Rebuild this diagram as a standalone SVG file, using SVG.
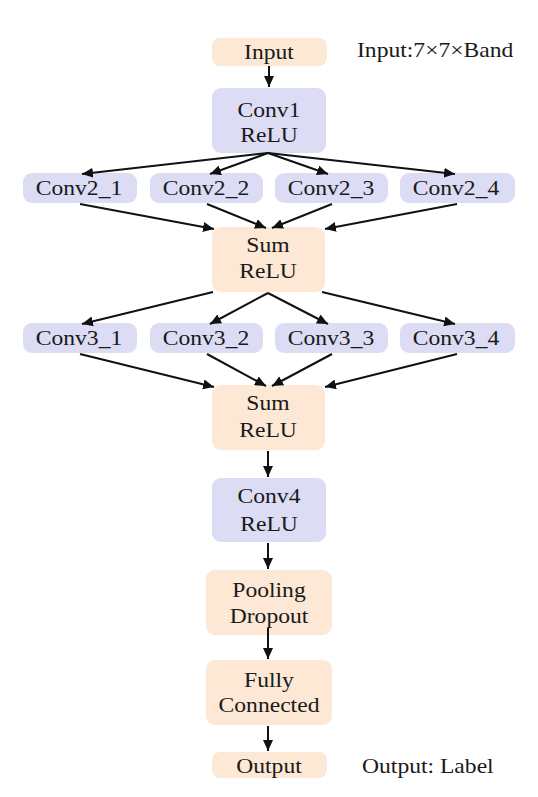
<svg xmlns="http://www.w3.org/2000/svg" width="538" height="797" viewBox="0 0 538 797">
<defs>
<marker id="ah" markerUnits="userSpaceOnUse" markerWidth="11" markerHeight="10" refX="11" refY="5" orient="auto">
<path d="M0,0 L11,5 L0,10 z" fill="#111"/>
</marker>
<style>
.o{fill:#FCE8D5}
.b{fill:#DCDCF5}
text{font-family:"Liberation Serif","Times New Roman",serif;font-size:20px;fill:#1a1a1a;text-anchor:middle}
.c line{stroke:#111;stroke-width:2;marker-end:url(#ah)}
</style>
</defs>
<rect width="538" height="797" fill="#fff"/>
<g id="input"><rect class="o" x="212" y="38" width="115" height="28" rx="8"/><text transform="translate(269,59) scale(1.18,1)">Input</text></g>
<g id="conv1"><rect class="b" x="212" y="88" width="114" height="65" rx="9"/><text transform="translate(269,117) scale(1.18,1)">Conv1</text><text transform="translate(269,142) scale(1.18,1)">ReLU</text></g>
<g id="conv2_1"><rect class="b" x="23" y="173" width="114" height="30" rx="9"/><text transform="translate(79,195) scale(1.18,1)">Conv2_1</text></g>
<g id="conv2_2"><rect class="b" x="150" y="173" width="113" height="30" rx="9"/><text transform="translate(206,195) scale(1.18,1)">Conv2_2</text></g>
<g id="conv2_3"><rect class="b" x="275" y="173" width="113" height="30" rx="9"/><text transform="translate(331,195) scale(1.18,1)">Conv2_3</text></g>
<g id="conv2_4"><rect class="b" x="400" y="173" width="115" height="30" rx="9"/><text transform="translate(456,195) scale(1.18,1)">Conv2_4</text></g>
<g id="sum1"><rect class="o" x="212" y="227" width="113" height="65" rx="9"/><text transform="translate(268,252) scale(1.18,1)">Sum</text><text transform="translate(268,278) scale(1.18,1)">ReLU</text></g>
<g id="conv3_1"><rect class="b" x="23" y="323" width="114" height="30" rx="9"/><text transform="translate(79,345) scale(1.18,1)">Conv3_1</text></g>
<g id="conv3_2"><rect class="b" x="150" y="323" width="113" height="30" rx="9"/><text transform="translate(206,345) scale(1.18,1)">Conv3_2</text></g>
<g id="conv3_3"><rect class="b" x="275" y="323" width="113" height="30" rx="9"/><text transform="translate(331,345) scale(1.18,1)">Conv3_3</text></g>
<g id="conv3_4"><rect class="b" x="400" y="323" width="115" height="30" rx="9"/><text transform="translate(456,345) scale(1.18,1)">Conv3_4</text></g>
<g id="sum2"><rect class="o" x="212" y="385" width="113" height="65" rx="9"/><text transform="translate(268,410) scale(1.18,1)">Sum</text><text transform="translate(268,437) scale(1.18,1)">ReLU</text></g>
<g id="conv4"><rect class="b" x="212" y="478" width="114" height="64" rx="9"/><text transform="translate(269,503) scale(1.18,1)">Conv4</text><text transform="translate(269,531) scale(1.18,1)">ReLU</text></g>
<g id="pooling"><rect class="o" x="206" y="570" width="126" height="65" rx="9"/><text transform="translate(269,597) scale(1.18,1)">Pooling</text><text transform="translate(269,623) scale(1.18,1)">Dropout</text></g>
<g id="fc"><rect class="o" x="206" y="660" width="126" height="65" rx="9"/><text transform="translate(269,687) scale(1.18,1)">Fully</text><text transform="translate(269,712) scale(1.18,1)">Connected</text></g>
<g id="output"><rect class="o" x="212" y="752" width="115" height="26" rx="8"/><text transform="translate(269,773) scale(1.18,1)">Output</text></g>
<g id="notes">
<text transform="translate(357,57) scale(1.18,1)" style="text-anchor:start">Input:7×7×Band</text>
<text transform="translate(362,773) scale(1.18,1)" style="text-anchor:start">Output: Label</text>
</g>
<g class="c" id="connectors">
<line x1="269" y1="66" x2="269" y2="87"/>
<line x1="268" y1="153" x2="82" y2="174"/>
<line x1="268" y1="153" x2="210" y2="174"/>
<line x1="268" y1="153" x2="328" y2="174"/>
<line x1="268" y1="153" x2="455" y2="174"/>
<line x1="80" y1="204" x2="214" y2="229"/>
<line x1="207" y1="204" x2="266" y2="228"/>
<line x1="332" y1="204" x2="272" y2="228"/>
<line x1="457" y1="204" x2="325" y2="229"/>
<line x1="213" y1="292" x2="82" y2="324"/>
<line x1="268" y1="293" x2="210" y2="324"/>
<line x1="268" y1="293" x2="328" y2="324"/>
<line x1="322" y1="292" x2="455" y2="324"/>
<line x1="80" y1="354" x2="214" y2="387"/>
<line x1="207" y1="354" x2="266" y2="386"/>
<line x1="332" y1="354" x2="272" y2="386"/>
<line x1="457" y1="354" x2="325" y2="387"/>
<line x1="268" y1="451" x2="268" y2="477"/>
<line x1="268" y1="543" x2="268" y2="569"/>
<line x1="268" y1="628" x2="268" y2="659"/>
<line x1="268" y1="726" x2="268" y2="751"/>
</g>
</svg>
